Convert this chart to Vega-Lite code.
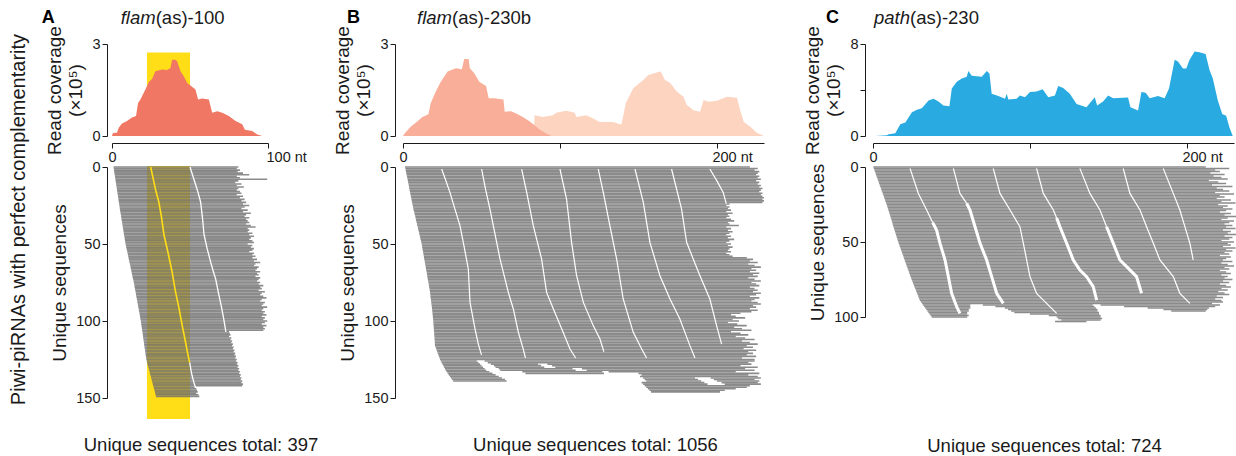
{
"$schema": "https://vega.github.io/schema/vega-lite/v6.json",
"padding": {"left": 8, "top": 8, "right": 0, "bottom": 0},
"background": "white",
"config": {
 "font": "Liberation Sans",
 "view": {"stroke": null},
 "axis": {"grid": false, "labelFontSize": 14.5, "titleFontSize": 19, "titleFontWeight": "normal", "labelColor": "#1a1a1a", "titleColor": "#1a1a1a", "domainColor": "#1a1a1a", "tickColor": "#1a1a1a", "tickSize": 5, "labelPadding": 2, "titlePadding": 6, "labelFlush": false, "labelOverlap": false, "titleLineHeight": 21}
},
"title": {"text": "Piwi-piRNAs with perfect complementarity", "orient": "left", "anchor": "middle", "fontSize": 20, "fontWeight": "normal", "color": "#1a1a1a", "offset": 13, "dx": 12},
"datasets": {
 "hlTop": [{"x1": 22.4, "x2": 50, "y1": 0, "y2": 2.72}],
 "hlBot": [{"x1": 22.4, "x2": 50, "y1": -0.6, "y2": 163.6}],
 "covA": [{"x":0,"v":0},{"x":0.6,"v":0.1},{"x":3.2,"v":0.11},{"x":4.3,"v":0.27},{"x":6.4,"v":0.41},{"x":9.6,"v":0.49},{"x":12.8,"v":0.6},{"x":15.4,"v":0.65},{"x":16.7,"v":1.08},{"x":18.2,"v":1.19},{"x":21.4,"v":1.52},{"x":23.6,"v":1.76},{"x":25.7,"v":1.86},{"x":27.8,"v":2.11},{"x":32.1,"v":2.17},{"x":35.3,"v":2.15},{"x":37.5,"v":2.22},{"x":38.5,"v":2.49},{"x":40.7,"v":2.49},{"x":41.8,"v":2.43},{"x":43.9,"v":2.11},{"x":46,"v":1.95},{"x":48.2,"v":1.73},{"x":50.3,"v":1.65},{"x":53.5,"v":1.52},{"x":55.2,"v":1.19},{"x":57.8,"v":1.22},{"x":62.1,"v":1.19},{"x":64.2,"v":0.76},{"x":67.5,"v":0.81},{"x":70.7,"v":0.76},{"x":74.9,"v":0.65},{"x":79.2,"v":0.49},{"x":83.5,"v":0.38},{"x":85.2,"v":0.2},{"x":89.9,"v":0.16},{"x":93.1,"v":0.05},{"x":96.4,"v":0}],
 "covB1": [{"x":0,"v":0},{"x":1.3,"v":0.1},{"x":4.9,"v":0.3},{"x":8.1,"v":0.43},{"x":12.4,"v":0.62},{"x":16.2,"v":0.71},{"x":17.7,"v":1.08},{"x":20.9,"v":1.45},{"x":24.1,"v":1.77},{"x":28.4,"v":2.1},{"x":33.7,"v":2.21},{"x":37.5,"v":2.18},{"x":39,"v":2.51},{"x":41.8,"v":2.51},{"x":42.6,"v":2.21},{"x":45.4,"v":2.05},{"x":48.6,"v":1.77},{"x":52.9,"v":1.63},{"x":54.6,"v":1.23},{"x":58.2,"v":1.23},{"x":64,"v":1.19},{"x":64.8,"v":0.79},{"x":68.9,"v":0.81},{"x":72.1,"v":0.73},{"x":76.3,"v":0.62},{"x":80.6,"v":0.48},{"x":83.8,"v":0.35},{"x":87,"v":0.21},{"x":91.3,"v":0.08},{"x":94.5,"v":0}],
 "covB2": [{"x":83.4,"v":0},{"x":83.8,"v":0.68},{"x":89.1,"v":0.62},{"x":95.5,"v":0.68},{"x":97.7,"v":0.76},{"x":104,"v":0.82},{"x":109.4,"v":0.76},{"x":110.4,"v":0.62},{"x":116.8,"v":0.68},{"x":121.1,"v":0.57},{"x":125.4,"v":0.46},{"x":133.9,"v":0.46},{"x":138.2,"v":0.38},{"x":139.2,"v":0.38},{"x":142,"v":1.08},{"x":146.7,"v":1.56},{"x":153.1,"v":1.83},{"x":156.3,"v":1.99},{"x":161.6,"v":2.07},{"x":164.2,"v":2.1},{"x":166.9,"v":1.83},{"x":170.1,"v":1.74},{"x":174.4,"v":1.45},{"x":178.7,"v":1.28},{"x":180.8,"v":1.01},{"x":185.1,"v":0.84},{"x":189.3,"v":0.79},{"x":191.5,"v":1.17},{"x":194.7,"v":1.12},{"x":200,"v":1.15},{"x":206.4,"v":1.28},{"x":212.8,"v":1.25},{"x":214.5,"v":0.9},{"x":217.1,"v":0.46},{"x":221.3,"v":0.3},{"x":225.6,"v":0.1},{"x":229.4,"v":0.02}],
 "covC": [{"x":1.5,"v":0},{"x":8.9,"v":0.06},{"x":10,"v":0.15},{"x":14.2,"v":0.24},{"x":17.4,"v":1.03},{"x":20.6,"v":1.18},{"x":24.8,"v":2.06},{"x":28,"v":2.29},{"x":31.1,"v":2.41},{"x":35.4,"v":3.09},{"x":38.6,"v":3.24},{"x":41.7,"v":3.0},{"x":44.9,"v":2.65},{"x":48.7,"v":2.59},{"x":50.2,"v":4.12},{"x":53.4,"v":4.71},{"x":56.6,"v":5.0},{"x":59.7,"v":5.15},{"x":60.8,"v":5.65},{"x":62.9,"v":5.24},{"x":69.3,"v":5.15},{"x":72.5,"v":5.65},{"x":74.2,"v":5.44},{"x":75.6,"v":3.68},{"x":79.9,"v":3.47},{"x":84.1,"v":3.24},{"x":85.2,"v":3.68},{"x":86.2,"v":3.18},{"x":91.5,"v":3.24},{"x":93.6,"v":3.53},{"x":96.8,"v":3.38},{"x":100,"v":3.82},{"x":104.2,"v":3.88},{"x":108.1,"v":4.06},{"x":111.7,"v":3.38},{"x":115.9,"v":3.53},{"x":118,"v":4.35},{"x":121.2,"v":4.18},{"x":125.4,"v":3.68},{"x":129.7,"v":2.79},{"x":136,"v":2.5},{"x":141.3,"v":3.38},{"x":142.8,"v":2.65},{"x":146.6,"v":3.0},{"x":149.8,"v":3.53},{"x":153,"v":3.29},{"x":162.5,"v":3.35},{"x":164,"v":2.5},{"x":168.9,"v":2.21},{"x":171,"v":3.82},{"x":173.7,"v":3.76},{"x":176.3,"v":3.29},{"x":181.6,"v":3.47},{"x":185.8,"v":3.29},{"x":188.6,"v":4.12},{"x":192.2,"v":6.62},{"x":194.3,"v":6.47},{"x":197.5,"v":5.88},{"x":199.6,"v":5.88},{"x":201.7,"v":6.62},{"x":204.9,"v":7.35},{"x":208,"v":7.29},{"x":211.9,"v":7.12},{"x":214.4,"v":5.74},{"x":216.5,"v":5.0},{"x":219.7,"v":3.09},{"x":222.5,"v":1.91},{"x":225,"v":1.76},{"x":227.1,"v":0.74},{"x":229.2,"v":0}],
 "rowsA": [{"y":0,"a":1.0,"b":81},{"y":1,"a":1.1,"b":80},{"y":2,"a":1.3,"b":82},{"y":3,"a":1.4,"b":80.5},{"y":4,"a":1.6,"b":84},{"y":5,"a":1.7,"b":88},{"y":6,"a":1.9,"b":80},{"y":7,"a":2.0,"b":82},{"y":8,"a":2.2,"b":99.5},{"y":9,"a":2.3,"b":81},{"y":10,"a":2.5,"b":79},{"y":11,"a":2.6,"b":83},{"y":12,"a":2.8,"b":80},{"y":13,"a":2.9,"b":84.5},{"y":14,"a":3.1,"b":81},{"y":15,"a":3.2,"b":80},{"y":16,"a":3.4,"b":82},{"y":17,"a":3.5,"b":83},{"y":18,"a":3.7,"b":80},{"y":19,"a":3.8,"b":84},{"y":20,"a":4.0,"b":82},{"y":21,"a":4.1,"b":85},{"y":22,"a":4.3,"b":83},{"y":23,"a":4.4,"b":86},{"y":24,"a":4.6,"b":84},{"y":25,"a":4.7,"b":88},{"y":26,"a":4.9,"b":85},{"y":27,"a":5.0,"b":83},{"y":28,"a":5.2,"b":87},{"y":29,"a":5.3,"b":84},{"y":30,"a":5.5,"b":89},{"y":31,"a":5.7,"b":86},{"y":32,"a":5.8,"b":85},{"y":33,"a":6.0,"b":88},{"y":34,"a":6.1,"b":86},{"y":35,"a":6.3,"b":87},{"y":36,"a":6.5,"b":88},{"y":37,"a":6.6,"b":86},{"y":38,"a":6.8,"b":89},{"y":39,"a":6.9,"b":92},{"y":40,"a":7.1,"b":87},{"y":41,"a":7.3,"b":88},{"y":42,"a":7.4,"b":87},{"y":43,"a":7.6,"b":90},{"y":44,"a":7.7,"b":88},{"y":45,"a":7.9,"b":91},{"y":46,"a":8.1,"b":89},{"y":47,"a":8.2,"b":88},{"y":48,"a":8.4,"b":90},{"y":49,"a":8.5,"b":91},{"y":50,"a":8.7,"b":87},{"y":51,"a":8.9,"b":90},{"y":52,"a":9.1,"b":89},{"y":53,"a":9.3,"b":91},{"y":54,"a":9.6,"b":90},{"y":55,"a":9.8,"b":88},{"y":56,"a":10.0,"b":91},{"y":57,"a":10.2,"b":90},{"y":58,"a":10.4,"b":92},{"y":59,"a":10.6,"b":90},{"y":60,"a":10.8,"b":93},{"y":61,"a":11.0,"b":91},{"y":62,"a":11.2,"b":95},{"y":63,"a":11.5,"b":92},{"y":64,"a":11.7,"b":91},{"y":65,"a":11.9,"b":94},{"y":66,"a":12.1,"b":93},{"y":67,"a":12.3,"b":92},{"y":68,"a":12.5,"b":95},{"y":69,"a":12.7,"b":93},{"y":70,"a":12.9,"b":94},{"y":71,"a":13.1,"b":92},{"y":72,"a":13.3,"b":95},{"y":73,"a":13.6,"b":94},{"y":74,"a":13.8,"b":93},{"y":75,"a":14.0,"b":95},{"y":76,"a":14.2,"b":94},{"y":77,"a":14.4,"b":97},{"y":78,"a":14.5,"b":95},{"y":79,"a":14.7,"b":96},{"y":80,"a":14.9,"b":94},{"y":81,"a":15.1,"b":98},{"y":82,"a":15.3,"b":96},{"y":83,"a":15.4,"b":95},{"y":84,"a":15.6,"b":97},{"y":85,"a":15.8,"b":99},{"y":86,"a":16.0,"b":96},{"y":87,"a":16.2,"b":95},{"y":88,"a":16.3,"b":98},{"y":89,"a":16.5,"b":97},{"y":90,"a":16.7,"b":96},{"y":91,"a":16.9,"b":99.5},{"y":92,"a":17.1,"b":97},{"y":93,"a":17.2,"b":96},{"y":94,"a":17.4,"b":98},{"y":95,"a":17.6,"b":97},{"y":96,"a":17.8,"b":99},{"y":97,"a":18.0,"b":96},{"y":98,"a":18.1,"b":98},{"y":99,"a":18.3,"b":97},{"y":100,"a":18.5,"b":99.5},{"y":101,"a":18.6,"b":98},{"y":102,"a":18.8,"b":96},{"y":103,"a":18.9,"b":99},{"y":104,"a":19.1,"b":97},{"y":105,"a":19.2,"b":98},{"y":106,"a":19.3,"b":97},{"y":107,"a":19.5,"b":75},{"y":108,"a":19.6,"b":75.5},{"y":109,"a":19.8,"b":76},{"y":110,"a":19.9,"b":75},{"y":111,"a":20.0,"b":76.5},{"y":112,"a":20.2,"b":76},{"y":113,"a":20.3,"b":77},{"y":114,"a":20.5,"b":76.5},{"y":115,"a":20.6,"b":77.5},{"y":116,"a":20.7,"b":77},{"y":117,"a":20.9,"b":78},{"y":118,"a":21.0,"b":77.5},{"y":119,"a":21.2,"b":78.5},{"y":120,"a":21.3,"b":78},{"y":121,"a":21.4,"b":79},{"y":122,"a":21.6,"b":78.5},{"y":123,"a":21.7,"b":79.5},{"y":124,"a":21.9,"b":79},{"y":125,"a":22.0,"b":80},{"y":126,"a":22.3,"b":79.5},{"y":127,"a":22.5,"b":80.5},{"y":128,"a":22.8,"b":80},{"y":129,"a":23.0,"b":81},{"y":130,"a":23.3,"b":80.5},{"y":131,"a":23.6,"b":81.5},{"y":132,"a":23.8,"b":81},{"y":133,"a":24.1,"b":82},{"y":134,"a":24.3,"b":81.5},{"y":135,"a":24.6,"b":82.5},{"y":136,"a":24.9,"b":82},{"y":137,"a":25.1,"b":83},{"y":138,"a":25.4,"b":82.5},{"y":139,"a":25.6,"b":83.5},{"y":140,"a":25.9,"b":83},{"y":141,"a":26.2,"b":84},{"y":142,"a":26.4,"b":83.5},{"y":143,"a":26.7,"b":53},{"y":144,"a":26.9,"b":54},{"y":145,"a":27.2,"b":54.5},{"y":146,"a":27.5,"b":55},{"y":147,"a":27.7,"b":54},{"y":148,"a":28.0,"b":55.5},{"y":149,"a":28.2,"b":56}],
 "gapAy": [{"g":"A1","x":24.8,"y":0},{"g":"A1","x":26.5,"y":8},{"g":"A1","x":28,"y":15},{"g":"A1","x":30,"y":22.7},{"g":"A1","x":31.8,"y":33},{"g":"A1","x":33.3,"y":44},{"g":"A1","x":36,"y":56},{"g":"A1","x":38.5,"y":68},{"g":"A1","x":40.5,"y":80},{"g":"A1","x":43,"y":92},{"g":"A1","x":45,"y":103},{"g":"A1","x":47,"y":113},{"g":"A1","x":48.5,"y":121},{"g":"A1","x":49.8,"y":127}],
 "gapAw": [{"g":"A1w","x":49.8,"y":127},{"g":"A1w","x":51,"y":134},{"g":"A1w","x":52.5,"y":140},{"g":"A1w","x":53.5,"y":143},{"g":"A2","x":50,"y":0},{"g":"A2","x":52.5,"y":8},{"g":"A2","x":55,"y":16},{"g":"A2","x":56.8,"y":22.7},{"g":"A2","x":58,"y":33},{"g":"A2","x":59,"y":44},{"g":"A2","x":61,"y":53},{"g":"A2","x":63.2,"y":61.6},{"g":"A2","x":65,"y":68},{"g":"A2","x":66.5,"y":73},{"g":"A2","x":68.3,"y":82},{"g":"A2","x":70,"y":90},{"g":"A2","x":71.5,"y":98},{"g":"A2","x":73,"y":107}],
 "rowsB": [{"y":0,"a":1.3,"b":221},{"y":1,"a":1.5,"b":226},{"y":2,"a":1.7,"b":224},{"y":3,"a":1.9,"b":227},{"y":4,"a":2.1,"b":226},{"y":5,"a":2.3,"b":225},{"y":6,"a":2.5,"b":227},{"y":7,"a":2.7,"b":226},{"y":8,"a":2.9,"b":228},{"y":9,"a":3.1,"b":225},{"y":10,"a":3.3,"b":227},{"y":11,"a":3.5,"b":226},{"y":12,"a":3.7,"b":228},{"y":13,"a":3.8,"b":227},{"y":14,"a":4.0,"b":229},{"y":15,"a":4.2,"b":228},{"y":16,"a":4.4,"b":227},{"y":17,"a":4.6,"b":229},{"y":18,"a":4.8,"b":228},{"y":19,"a":5.0,"b":229},{"y":20,"a":5.2,"b":230},{"y":21,"a":5.4,"b":229},{"y":22,"a":5.6,"b":230},{"y":23,"a":5.8,"b":229},{"y":24,"a":6.0,"b":208},{"y":25,"a":6.2,"b":206},{"y":26,"a":6.4,"b":208},{"y":27,"a":6.6,"b":207},{"y":28,"a":6.8,"b":209},{"y":29,"a":7.1,"b":206},{"y":30,"a":7.3,"b":210},{"y":31,"a":7.5,"b":207},{"y":32,"a":7.8,"b":208},{"y":33,"a":8.0,"b":206},{"y":34,"a":8.2,"b":209},{"y":35,"a":8.4,"b":211},{"y":36,"a":8.7,"b":207},{"y":37,"a":8.9,"b":208},{"y":38,"a":9.1,"b":214},{"y":39,"a":9.4,"b":206},{"y":40,"a":9.6,"b":209},{"y":41,"a":9.8,"b":207},{"y":42,"a":10.1,"b":210},{"y":43,"a":10.3,"b":208},{"y":44,"a":10.5,"b":206},{"y":45,"a":10.8,"b":209},{"y":46,"a":11.0,"b":207},{"y":47,"a":11.2,"b":211},{"y":48,"a":11.5,"b":208},{"y":49,"a":11.7,"b":206},{"y":50,"a":11.9,"b":209},{"y":51,"a":12.1,"b":207},{"y":52,"a":12.2,"b":210},{"y":53,"a":12.4,"b":208},{"y":54,"a":12.6,"b":207},{"y":55,"a":12.8,"b":209},{"y":56,"a":12.9,"b":206},{"y":57,"a":13.1,"b":208},{"y":58,"a":13.3,"b":210},{"y":59,"a":13.4,"b":219},{"y":60,"a":13.6,"b":223},{"y":61,"a":13.8,"b":221},{"y":62,"a":14.0,"b":226},{"y":63,"a":14.1,"b":220},{"y":64,"a":14.3,"b":224},{"y":65,"a":14.5,"b":228},{"y":66,"a":14.6,"b":222},{"y":67,"a":14.8,"b":225},{"y":68,"a":15.0,"b":221},{"y":69,"a":15.2,"b":227},{"y":70,"a":15.3,"b":223},{"y":71,"a":15.5,"b":226},{"y":72,"a":15.7,"b":220},{"y":73,"a":15.8,"b":224},{"y":74,"a":16.0,"b":228},{"y":75,"a":16.2,"b":222},{"y":76,"a":16.4,"b":225},{"y":77,"a":16.5,"b":227},{"y":78,"a":16.7,"b":221},{"y":79,"a":16.9,"b":224},{"y":80,"a":17.0,"b":226},{"y":81,"a":17.2,"b":223},{"y":82,"a":17.3,"b":228},{"y":83,"a":17.4,"b":225},{"y":84,"a":17.5,"b":221},{"y":85,"a":17.6,"b":227},{"y":86,"a":17.8,"b":224},{"y":87,"a":17.9,"b":222},{"y":88,"a":18.0,"b":226},{"y":89,"a":18.1,"b":228},{"y":90,"a":18.3,"b":223},{"y":91,"a":18.4,"b":225},{"y":92,"a":18.5,"b":221},{"y":93,"a":18.6,"b":226},{"y":94,"a":18.7,"b":222},{"y":95,"a":18.8,"b":215},{"y":96,"a":18.9,"b":209},{"y":97,"a":19.0,"b":212},{"y":98,"a":19.1,"b":218},{"y":99,"a":19.2,"b":210},{"y":100,"a":19.3,"b":214},{"y":101,"a":19.4,"b":207},{"y":102,"a":19.4,"b":213},{"y":103,"a":19.5,"b":219},{"y":104,"a":19.6,"b":211},{"y":105,"a":19.6,"b":216},{"y":106,"a":19.7,"b":222},{"y":107,"a":19.8,"b":209},{"y":108,"a":19.9,"b":215},{"y":109,"a":19.9,"b":220},{"y":110,"a":20.0,"b":212},{"y":111,"a":20.1,"b":218},{"y":112,"a":20.1,"b":224},{"y":113,"a":20.2,"b":216},{"y":114,"a":20.3,"b":221},{"y":115,"a":20.3,"b":226},{"y":116,"a":20.4,"b":219},{"y":117,"a":20.8,"b":223},{"y":118,"a":21.1,"b":217},{"y":119,"a":21.5,"b":225},{"y":120,"a":21.8,"b":220},{"y":121,"a":22.2,"b":223},{"y":122,"a":22.6,"b":219},{"y":123,"a":22.9,"b":225},{"y":124,"a":23.3,"b":216},{"y":125,"a":23.6,"b":224},{"y":126,"a":24.1,"b":47},{"y":126,"a":52,"b":224},{"y":127,"a":24.6,"b":48},{"y":127,"a":54,"b":220},{"y":128,"a":25.2,"b":49},{"y":128,"a":56,"b":86},{"y":128,"a":92,"b":222},{"y":129,"a":25.7,"b":50},{"y":129,"a":58,"b":88},{"y":129,"a":95,"b":215},{"y":130,"a":26.2,"b":51},{"y":130,"a":59,"b":90},{"y":130,"a":97,"b":226},{"y":131,"a":26.7,"b":52},{"y":131,"a":61,"b":108},{"y":131,"a":114,"b":218},{"y":132,"a":27.2,"b":53},{"y":132,"a":62,"b":110},{"y":132,"a":117,"b":224},{"y":133,"a":27.8,"b":55},{"y":133,"a":76,"b":127},{"y":133,"a":131,"b":212},{"y":134,"a":28.5,"b":57},{"y":134,"a":78,"b":128},{"y":134,"a":150,"b":227},{"y":135,"a":29.2,"b":59},{"y":135,"a":152,"b":220},{"y":136,"a":29.9,"b":61},{"y":136,"a":151,"b":226},{"y":137,"a":30.6,"b":63},{"y":137,"a":153,"b":186},{"y":137,"a":196,"b":228},{"y":138,"a":31.3,"b":65},{"y":138,"a":154,"b":188},{"y":138,"a":198,"b":224},{"y":139,"a":32,"b":66},{"y":139,"a":155,"b":190},{"y":139,"a":200,"b":227},{"y":140,"a":152,"b":192},{"y":140,"a":203,"b":226},{"y":141,"a":153,"b":194},{"y":141,"a":205,"b":228},{"y":142,"a":154,"b":221},{"y":143,"a":155,"b":219},{"y":144,"a":156,"b":212},{"y":145,"a":157,"b":205},{"y":146,"a":158,"b":202}],
 "gapB": [{"g":"B1","x":24.6,"y":1.3},{"g":"B1","x":27,"y":8},{"g":"B1","x":29.9,"y":16.5},{"g":"B1","x":33,"y":27},{"g":"B1","x":36.3,"y":38.1},{"g":"B1","x":39,"y":52},{"g":"B1","x":41.6,"y":66.2},{"g":"B1","x":42.7,"y":87.9},{"g":"B1","x":45.9,"y":105.2},{"g":"B1","x":48,"y":115},{"g":"B1","x":50,"y":122},{"g":"B2","x":50.1,"y":1.3},{"g":"B2","x":52.5,"y":14},{"g":"B2","x":55.4,"y":27.3},{"g":"B2","x":58.5,"y":43},{"g":"B2","x":61.8,"y":59.7},{"g":"B2","x":67.1,"y":81.4},{"g":"B2","x":70.3,"y":92.2},{"g":"B2","x":73.5,"y":107.4},{"g":"B2","x":76.6,"y":118.2},{"g":"B2","x":78,"y":124},{"g":"B3","x":75.6,"y":1.3},{"g":"B3","x":78.8,"y":16.5},{"g":"B3","x":83,"y":38.1},{"g":"B3","x":88.3,"y":59.7},{"g":"B3","x":91.5,"y":81.4},{"g":"B3","x":95.8,"y":92.2},{"g":"B3","x":102.1,"y":107.4},{"g":"B3","x":106.4,"y":118.2},{"g":"B3","x":110,"y":124},{"g":"B4","x":100,"y":1.3},{"g":"B4","x":104.2,"y":20.8},{"g":"B4","x":107.4,"y":48.9},{"g":"B4","x":110.6,"y":70.6},{"g":"B4","x":114.9,"y":87.9},{"g":"B4","x":121.2,"y":103},{"g":"B4","x":125.5,"y":111.7},{"g":"B4","x":128,"y":120},{"g":"B5","x":124.4,"y":1.3},{"g":"B5","x":127.6,"y":16.5},{"g":"B5","x":131.8,"y":38.1},{"g":"B5","x":136.1,"y":59.7},{"g":"B5","x":140.3,"y":85.7},{"g":"B5","x":146.7,"y":107.4},{"g":"B5","x":152,"y":118},{"g":"B5","x":155.2,"y":124},{"g":"B6","x":147.8,"y":1.3},{"g":"B6","x":153.1,"y":23},{"g":"B6","x":157.3,"y":48.9},{"g":"B6","x":163.7,"y":70.6},{"g":"B6","x":170.1,"y":85.7},{"g":"B6","x":176.4,"y":98.7},{"g":"B6","x":182.8,"y":116},{"g":"B6","x":186,"y":124},{"g":"B7","x":171.1,"y":1.3},{"g":"B7","x":177.5,"y":27.3},{"g":"B7","x":180.7,"y":48.9},{"g":"B7","x":184.9,"y":59.7},{"g":"B7","x":189.2,"y":70.6},{"g":"B7","x":195.5,"y":85.7},{"g":"B7","x":199.8,"y":103},{"g":"B7","x":203,"y":115},{"g":"B8","x":195.5,"y":1.3},{"g":"B8","x":200,"y":9},{"g":"B8","x":204,"y":16.5},{"g":"B8","x":206,"y":24}],
 "rowsC": [{"y":0,"a":0.2,"b":212},{"y":1,"a":0.5,"b":227},{"y":2,"a":0.9,"b":218},{"y":3,"a":1.2,"b":221},{"y":4,"a":1.6,"b":215},{"y":5,"a":1.9,"b":224},{"y":6,"a":2.2,"b":217},{"y":7,"a":2.6,"b":222},{"y":8,"a":2.9,"b":226},{"y":9,"a":3.3,"b":214},{"y":10,"a":3.6,"b":220},{"y":11,"a":3.9,"b":225},{"y":12,"a":4.3,"b":216},{"y":13,"a":4.6,"b":229},{"y":14,"a":5.0,"b":219},{"y":15,"a":5.3,"b":223},{"y":16,"a":5.6,"b":227},{"y":17,"a":6.0,"b":218},{"y":18,"a":6.3,"b":230},{"y":19,"a":6.7,"b":221},{"y":20,"a":7.0,"b":224},{"y":21,"a":7.3,"b":219},{"y":22,"a":7.7,"b":228},{"y":23,"a":8.0,"b":222},{"y":24,"a":8.4,"b":231},{"y":25,"a":8.7,"b":220},{"y":26,"a":9.0,"b":226},{"y":27,"a":9.3,"b":223},{"y":28,"a":9.6,"b":229},{"y":29,"a":9.9,"b":225},{"y":30,"a":10.2,"b":221},{"y":31,"a":10.5,"b":228},{"y":32,"a":10.8,"b":224},{"y":33,"a":11.1,"b":232},{"y":34,"a":11.4,"b":226},{"y":35,"a":11.7,"b":222},{"y":36,"a":12.0,"b":230},{"y":37,"a":12.3,"b":227},{"y":38,"a":12.5,"b":224},{"y":39,"a":12.8,"b":229},{"y":40,"a":13.1,"b":225},{"y":41,"a":13.4,"b":231},{"y":42,"a":13.7,"b":223},{"y":43,"a":14.0,"b":228},{"y":44,"a":14.3,"b":226},{"y":45,"a":14.6,"b":232},{"y":46,"a":14.9,"b":224},{"y":47,"a":15.2,"b":229},{"y":48,"a":15.5,"b":227},{"y":49,"a":15.8,"b":222},{"y":50,"a":16.1,"b":230},{"y":51,"a":16.4,"b":226},{"y":52,"a":16.8,"b":228},{"y":53,"a":17.1,"b":223},{"y":54,"a":17.5,"b":231},{"y":55,"a":17.8,"b":225},{"y":56,"a":18.1,"b":229},{"y":57,"a":18.5,"b":224},{"y":58,"a":18.8,"b":227},{"y":59,"a":19.2,"b":221},{"y":60,"a":19.5,"b":228},{"y":61,"a":19.8,"b":225},{"y":62,"a":20.2,"b":223},{"y":63,"a":20.5,"b":229},{"y":64,"a":20.9,"b":222},{"y":65,"a":21.2,"b":226},{"y":66,"a":21.5,"b":230},{"y":67,"a":21.9,"b":224},{"y":68,"a":22.2,"b":227},{"y":69,"a":22.6,"b":221},{"y":70,"a":22.9,"b":225},{"y":71,"a":23.2,"b":228},{"y":72,"a":23.6,"b":222},{"y":73,"a":23.9,"b":226},{"y":74,"a":24.3,"b":224},{"y":75,"a":24.6,"b":229},{"y":76,"a":25.0,"b":223},{"y":77,"a":25.4,"b":227},{"y":78,"a":25.7,"b":221},{"y":79,"a":26.1,"b":225},{"y":80,"a":26.5,"b":228},{"y":81,"a":26.9,"b":222},{"y":82,"a":27.3,"b":226},{"y":83,"a":27.6,"b":220},{"y":84,"a":28.0,"b":224},{"y":85,"a":28.4,"b":227},{"y":86,"a":28.8,"b":219},{"y":87,"a":29.1,"b":223},{"y":88,"a":29.5,"b":218},{"y":89,"a":29.9,"b":222},{"y":90,"a":30.6,"b":223},{"y":91,"a":31.3,"b":216},{"y":92,"a":31.9,"b":62},{"y":92,"a":70,"b":140},{"y":92,"a":145,"b":221},{"y":93,"a":32.6,"b":62},{"y":93,"a":78,"b":141},{"y":93,"a":160,"b":218},{"y":94,"a":33.3,"b":62},{"y":94,"a":84,"b":142},{"y":94,"a":175,"b":214},{"y":95,"a":34,"b":61},{"y":95,"a":86,"b":143},{"y":95,"a":185,"b":213},{"y":96,"a":34.7,"b":61},{"y":96,"a":88,"b":143},{"y":96,"a":190,"b":212},{"y":97,"a":35.3,"b":60},{"y":97,"a":90,"b":144},{"y":98,"a":36,"b":60},{"y":98,"a":100,"b":144},{"y":99,"a":36.7,"b":61},{"y":99,"a":112,"b":145},{"y":100,"a":37.4,"b":60},{"y":100,"a":117,"b":145},{"y":101,"a":118,"b":146},{"y":102,"a":120,"b":145},{"y":103,"a":116,"b":136}],
 "gapCthin": [{"g":"C1","x":23.6,"y":0.9},{"g":"C1","x":28.9,"y":17.6},{"g":"C1","x":34.2,"y":28.7},{"g":"C1","x":38,"y":37},{"g":"C2","x":51.2,"y":0.9},{"g":"C2","x":55.4,"y":17.6},{"g":"C2","x":59.7,"y":24.2},{"g":"C3","x":76.6,"y":0.9},{"g":"C3","x":80.9,"y":17.6},{"g":"C3","x":87.3,"y":28.7},{"g":"C3","x":93.6,"y":39.8},{"g":"C3","x":95.8,"y":50.9},{"g":"C3","x":97.9,"y":62},{"g":"C3","x":100,"y":73.1},{"g":"C3","x":104.2,"y":84.2},{"g":"C3","x":110.6,"y":90.9},{"g":"C3","x":117,"y":97.6},{"g":"C4","x":104.2,"y":0.9},{"g":"C4","x":108.5,"y":17.6},{"g":"C4","x":114.9,"y":28.7},{"g":"C4","x":117,"y":34},{"g":"C5","x":131.8,"y":0.9},{"g":"C5","x":138.2,"y":17.6},{"g":"C5","x":144.6,"y":28.7},{"g":"C5","x":148.8,"y":39.8},{"g":"C6","x":159.4,"y":0.9},{"g":"C6","x":163.7,"y":17.6},{"g":"C6","x":170.1,"y":28.7},{"g":"C6","x":174.3,"y":39.8},{"g":"C6","x":178.6,"y":50.9},{"g":"C6","x":182.8,"y":62},{"g":"C6","x":191.3,"y":73.1},{"g":"C6","x":195.5,"y":84.2},{"g":"C6","x":201.9,"y":90.9},{"g":"C7","x":184.9,"y":0.9},{"g":"C7","x":191.3,"y":17.6},{"g":"C7","x":195.5,"y":28.7},{"g":"C7","x":198.7,"y":39.8},{"g":"C7","x":201.9,"y":50.9},{"g":"C7","x":204,"y":62}],
 "gapCwide": [{"g":"W1","x":38,"y":37},{"g":"W1","x":40.5,"y":42},{"g":"W1","x":42.7,"y":50.9},{"g":"W1","x":45.9,"y":62},{"g":"W1","x":48,"y":73.1},{"g":"W1","x":50.1,"y":84.2},{"g":"W1","x":53.3,"y":93.1},{"g":"W1","x":55.4,"y":97.6},{"g":"W2","x":59.7,"y":24.2},{"g":"W2","x":61.8,"y":28.7},{"g":"W2","x":65,"y":39.8},{"g":"W2","x":68.2,"y":50.9},{"g":"W2","x":72.4,"y":62},{"g":"W2","x":75.6,"y":73.1},{"g":"W2","x":78.8,"y":84.2},{"g":"W2","x":83,"y":90.9},{"g":"W4","x":117,"y":34},{"g":"W4","x":119.1,"y":39.8},{"g":"W4","x":123.4,"y":50.9},{"g":"W4","x":127.6,"y":62},{"g":"W4","x":131.8,"y":68.7},{"g":"W4","x":136.1,"y":73.1},{"g":"W4","x":140.3,"y":79.8},{"g":"W4","x":142.5,"y":88.7},{"g":"W5","x":148.8,"y":39.8},{"g":"W5","x":153.1,"y":50.9},{"g":"W5","x":157.3,"y":62},{"g":"W5","x":161.6,"y":66.4},{"g":"W5","x":167.9,"y":73.1},{"g":"W5","x":171.1,"y":84.2}]
},
"hconcat": [
 {"vconcat": [
  {"width": 156, "height": 92, "layer": [
   {"data": {"name": "hlTop"}, "mark": {"type": "rect", "color": "#FFDD17"},
    "encoding": {
     "x": {"field": "x1", "type": "quantitative", "scale": {"domain": [0, 100], "nice": false, "zero": false},
       "axis": {"values": [0, 100], "title": null, "offset": 7, "labelExpr": "datum.value == 100 ? '100 nt' : datum.label", "labelAlign": {"condition": {"test": "datum.value > 0", "value": "left"}, "value": "center"}, "labelOffset": {"condition": {"test": "datum.value > 0", "value": -2}, "value": 0}}},
     "x2": {"field": "x2"},
     "y": {"field": "y1", "type": "quantitative", "scale": {"domain": [0, 3], "nice": false, "zero": false},
       "axis": {"values": [0, 1, 2, 3], "labelExpr": "datum.value == 0 || datum.value == 3 ? datum.label : ''", "title": ["Read coverage", "(×10⁵)"], "offset": 5}},
     "y2": {"field": "y2"}}},
   {"data": {"name": "covA"}, "mark": {"type": "area", "color": "#F07763", "opacity": 1},
    "encoding": {"x": {"field": "x", "type": "quantitative"}, "y": {"field": "v", "type": "quantitative"}}},
   {"data": {"values": [{}]}, "mark": {"type": "text", "text": "A", "fontSize": 18, "fontWeight": "bold", "align": "left", "baseline": "middle", "color": "#000"},
    "encoding": {"x": {"datum": -45, "type": "quantitative"}, "y": {"datum": 3.86, "type": "quantitative"}}},
   {"data": {"values": [{}]}, "mark": {"type": "text", "text": "flam", "fontSize": 18.5, "fontStyle": "italic", "align": "right", "baseline": "middle", "color": "#1a1a1a"},
    "encoding": {"x": {"datum": 28, "type": "quantitative"}, "y": {"datum": 3.86, "type": "quantitative"}}},
   {"data": {"values": [{}]}, "mark": {"type": "text", "text": "(as)-100", "fontSize": 18.5, "align": "left", "baseline": "middle", "color": "#1a1a1a"},
    "encoding": {"x": {"datum": 28, "type": "quantitative"}, "y": {"datum": 3.86, "type": "quantitative"}}}
  ]},
  {"width": 156, "height": 231, "layer": [
   {"data": {"name": "hlBot"}, "mark": {"type": "rect", "color": "#FFDD17"},
    "encoding": {
     "x": {"field": "x1", "type": "quantitative", "scale": {"domain": [0, 100], "nice": false, "zero": false},
       "axis": {"labels": false, "ticks": false, "domain": false, "title": "Unique sequences total: 397", "titleX": 88.5, "titleY": 52, "titleBaseline": "alphabetic", "titleFontSize": 18.5}},
     "x2": {"field": "x2"},
     "y": {"field": "y1", "type": "quantitative", "scale": {"domain": [0, 150], "reverse": true, "nice": false, "zero": false},
       "axis": {"values": [0, 50, 100, 150], "title": "Unique sequences", "offset": 5}},
     "y2": {"field": "y2"}}},
   {"data": {"name": "rowsA"}, "mark": {"type": "rule", "strokeWidth": 1.6, "color": "#6e6e6e", "opacity": 0.8},
    "encoding": {"x": {"field": "a", "type": "quantitative"}, "x2": {"field": "b"}, "y": {"field": "y", "type": "quantitative"}}},
   {"data": {"name": "gapAy"}, "mark": {"type": "line", "color": "#FFDD17", "strokeWidth": 1.6},
    "encoding": {"x": {"field": "x", "type": "quantitative"}, "y": {"field": "y", "type": "quantitative"}, "detail": {"field": "g"}, "order": {"field": "y"}}},
   {"data": {"name": "gapAw"}, "mark": {"type": "line", "color": "white", "strokeWidth": 1.3},
    "encoding": {"x": {"field": "x", "type": "quantitative"}, "y": {"field": "y", "type": "quantitative"}, "detail": {"field": "g"}, "order": {"field": "y"}}}
  ]}
 ], "spacing": 31, "bounds": "flush"},
 {"hconcat": [
  {"vconcat": [
   {"width": 361, "height": 92, "layer": [
    {"data": {"name": "covB2"}, "mark": {"type": "area", "color": "#FCD4C0"},
     "encoding": {
      "x": {"field": "x", "type": "quantitative", "scale": {"domain": [0, 230], "nice": false, "zero": false},
        "axis": {"values": [0, 100, 200], "title": null, "offset": 7, "labelExpr": "datum.value == 200 ? '200 nt' : datum.value == 0 ? '0' : ''", "labelAlign": {"condition": {"test": "datum.value > 0", "value": "left"}, "value": "center"}, "labelOffset": {"condition": {"test": "datum.value > 0", "value": -5}, "value": 0}}},
      "y": {"field": "v", "type": "quantitative", "scale": {"domain": [0, 3], "nice": false, "zero": false},
        "axis": {"values": [0, 1, 2, 3], "labelExpr": "datum.value == 0 || datum.value == 3 ? datum.label : ''", "title": ["Read coverage", "(×10⁵)"], "offset": 8}}}},
    {"data": {"name": "covB1"}, "mark": {"type": "area", "color": "#F8AE98"},
     "encoding": {"x": {"field": "x", "type": "quantitative"}, "y": {"field": "v", "type": "quantitative"}}},
    {"data": {"values": [{}]}, "mark": {"type": "text", "text": "B", "fontSize": 18, "fontWeight": "bold", "align": "left", "baseline": "middle", "color": "#000"},
     "encoding": {"x": {"datum": -35.7, "type": "quantitative"}, "y": {"datum": 3.86, "type": "quantitative"}}},
    {"data": {"values": [{}]}, "mark": {"type": "text", "text": "flam", "fontSize": 18.5, "fontStyle": "italic", "align": "right", "baseline": "middle", "color": "#1a1a1a"},
     "encoding": {"x": {"datum": 31.2, "type": "quantitative"}, "y": {"datum": 3.86, "type": "quantitative"}}},
    {"data": {"values": [{}]}, "mark": {"type": "text", "text": "(as)-230b", "fontSize": 18.5, "align": "left", "baseline": "middle", "color": "#1a1a1a"},
     "encoding": {"x": {"datum": 31.2, "type": "quantitative"}, "y": {"datum": 3.86, "type": "quantitative"}}}
   ]},
   {"width": 361, "height": 231, "layer": [
    {"data": {"name": "rowsB"}, "mark": {"type": "rule", "strokeWidth": 1.6, "color": "#8b8b8b"},
     "encoding": {
      "x": {"field": "a", "type": "quantitative", "scale": {"domain": [0, 230], "nice": false, "zero": false},
        "axis": {"labels": false, "ticks": false, "domain": false, "title": "Unique sequences total: 1056", "titleX": 192, "titleY": 52, "titleBaseline": "alphabetic", "titleFontSize": 18.5}},
      "x2": {"field": "b"},
      "y": {"field": "y", "type": "quantitative", "scale": {"domain": [0, 150], "reverse": true, "nice": false, "zero": false},
        "axis": {"values": [0, 50, 100, 150], "title": "Unique sequences", "offset": 8}}}},
    {"data": {"name": "gapB"}, "mark": {"type": "line", "color": "white", "strokeWidth": 1.2},
     "encoding": {"x": {"field": "x", "type": "quantitative"}, "y": {"field": "y", "type": "quantitative"}, "detail": {"field": "g"}, "order": {"field": "y"}}}
   ]}
  ], "spacing": 31, "bounds": "flush"},
  {"vconcat": [
   {"width": 361, "height": 92, "layer": [
    {"data": {"name": "covC"}, "mark": {"type": "area", "color": "#29ABE2"},
     "encoding": {
      "x": {"field": "x", "type": "quantitative", "scale": {"domain": [0, 230], "nice": false, "zero": false},
        "axis": {"values": [0, 100, 200], "title": null, "offset": 7, "labelExpr": "datum.value == 200 ? '200 nt' : datum.value == 0 ? '0' : ''", "labelAlign": {"condition": {"test": "datum.value > 0", "value": "left"}, "value": "center"}, "labelOffset": {"condition": {"test": "datum.value > 0", "value": -5}, "value": 0}}},
      "y": {"field": "v", "type": "quantitative", "scale": {"domain": [0, 8], "nice": false, "zero": false},
        "axis": {"values": [0, 2, 4, 6, 8], "labelExpr": "datum.value == 0 || datum.value == 8 ? datum.label : ''", "title": ["Read coverage", "(×10⁵)"], "offset": 8}}}},
    {"data": {"values": [{}]}, "mark": {"type": "text", "text": "C", "fontSize": 18, "fontWeight": "bold", "align": "left", "baseline": "middle", "color": "#000"},
     "encoding": {"x": {"datum": -29.9, "type": "quantitative"}, "y": {"datum": 10.3, "type": "quantitative"}}},
    {"data": {"values": [{}]}, "mark": {"type": "text", "text": "path", "fontSize": 18.5, "fontStyle": "italic", "align": "right", "baseline": "middle", "color": "#1a1a1a"},
     "encoding": {"x": {"datum": 23.6, "type": "quantitative"}, "y": {"datum": 10.3, "type": "quantitative"}}},
    {"data": {"values": [{}]}, "mark": {"type": "text", "text": "(as)-230", "fontSize": 18.5, "align": "left", "baseline": "middle", "color": "#1a1a1a"},
     "encoding": {"x": {"datum": 23.6, "type": "quantitative"}, "y": {"datum": 10.3, "type": "quantitative"}}}
   ]},
   {"width": 361, "height": 150, "layer": [
    {"data": {"name": "rowsC"}, "mark": {"type": "rule", "strokeWidth": 1.6, "color": "#8b8b8b"},
     "encoding": {
      "x": {"field": "a", "type": "quantitative", "scale": {"domain": [0, 230], "nice": false, "zero": false},
        "axis": {"labels": false, "ticks": false, "domain": false, "title": "Unique sequences total: 724", "titleX": 171, "titleY": 134, "titleBaseline": "alphabetic", "titleFontSize": 18.5}},
      "x2": {"field": "b"},
      "y": {"field": "y", "type": "quantitative", "scale": {"domain": [0, 100], "reverse": true, "nice": false, "zero": false},
        "axis": {"values": [0, 25, 50, 75, 100], "labelExpr": "datum.value % 50 == 0 ? datum.label : ''", "title": "Unique sequences", "offset": 8}}}},
    {"data": {"name": "gapCthin"}, "mark": {"type": "line", "color": "white", "strokeWidth": 1.2},
     "encoding": {"x": {"field": "x", "type": "quantitative"}, "y": {"field": "y", "type": "quantitative"}, "detail": {"field": "g"}, "order": {"field": "y"}}},
    {"data": {"name": "gapCwide"}, "mark": {"type": "line", "color": "white", "strokeWidth": 3},
     "encoding": {"x": {"field": "x", "type": "quantitative"}, "y": {"field": "y", "type": "quantitative"}, "detail": {"field": "g"}, "order": {"field": "y"}}}
   ]}
  ], "spacing": 31, "bounds": "flush"}
 ], "spacing": 38, "bounds": "full"}
],
"spacing": 15,
"bounds": "full"
}
